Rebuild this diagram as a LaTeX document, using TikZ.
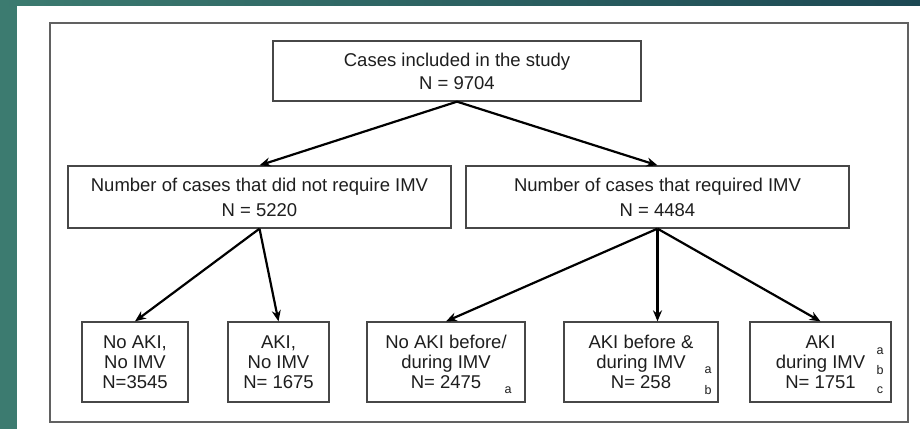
\documentclass[tikz,border=0pt]{standalone}
\usepackage{fontspec}
\setmainfont{Liberation Sans}
\usetikzlibrary{arrows.meta}
\definecolor{tealA}{HTML}{3C7B70}
\definecolor{tealB}{HTML}{1C4853}
\definecolor{inkc}{HTML}{1E1E1E}
\begin{document}
\begin{tikzpicture}[x=1pt,y=-1pt,
  box/.style={draw=black!72, line width=1.3pt, inner sep=0pt, align=center, text=inkc},
  topfont/.style={font=\fontsize{18.5}{23}\selectfont},
  midfont/.style={font=\fontsize{18.5}{25}\selectfont},
  botfont/.style={font=\fontsize{18.5}{20}\selectfont},
  arr/.style={line width=2.2pt, draw=black, -{Stealth[length=11pt,width=9pt]}},
  note/.style={font=\fontsize{12.5}{13}\selectfont, text=inkc, inner sep=0pt}]
\useasboundingbox (0,0) rectangle (920,429);
\fill[tealA] (0,0) rectangle (920,429);
\shade[left color=tealA, right color=tealB] (0,0) rectangle (920,6);
\fill[white] (17,6) rectangle (920,429);
\draw[black!62, line width=1.3pt] (50,23) rectangle (908,422);

\node[box, topfont, minimum width=368pt, minimum height=60pt] (top) at (457,71)
  {Cases included in the study\\N = 9704};
\node[box, midfont, minimum width=383pt, minimum height=62pt] (ml) at (259.5,197)
  {Number of cases that did not require IMV\\N = 5220};
\node[box, midfont, minimum width=383pt, minimum height=62pt] (mr) at (657.5,197)
  {Number of cases that required IMV\\N = 4484};

\node[box, botfont, minimum width=106pt, minimum height=80pt] (b1) at (135,362)
  {No AKI,\\No IMV\\N=3545};
\node[box, botfont, minimum width=101pt, minimum height=80pt] (b2) at (278.5,362)
  {AKI,\\No IMV\\N= 1675};
\node[box, botfont, minimum width=158pt, minimum height=80pt] (b3) at (446,362)
  {No AKI before/\\during IMV\\N= 2475};
\node[box, botfont, minimum width=154pt, minimum height=80pt] (b4) at (641,362)
  {AKI before \&\\during IMV\\N= 258};
\node[box, botfont, minimum width=141pt, minimum height=80pt] (b5) at (820.5,362)
  {AKI\\during IMV\\N= 1751};

\node[note] (n3a) at (508,390) {a};
\node[note] (n4a) at (708,370) {a};
\node[note] (n4b) at (708,390) {b};
\node[note] (n5a) at (880,351) {a};
\node[note] (n5b) at (880,370) {b};
\node[note] (n5c) at (880,390) {c};

\draw[arr] (top.south) -- (ml.north);
\draw[arr] (top.south) -- (mr.north);
\draw[arr] (ml.south) -- (b1.north);
\draw[arr] (ml.south) -- (b2.north);
\draw[arr] (mr.south) -- (b3.north);
\draw[arr] (mr.south) -- (mr.south |- b4.north);
\draw[arr] (mr.south) -- (b5.north);
\end{tikzpicture}
\end{document}
